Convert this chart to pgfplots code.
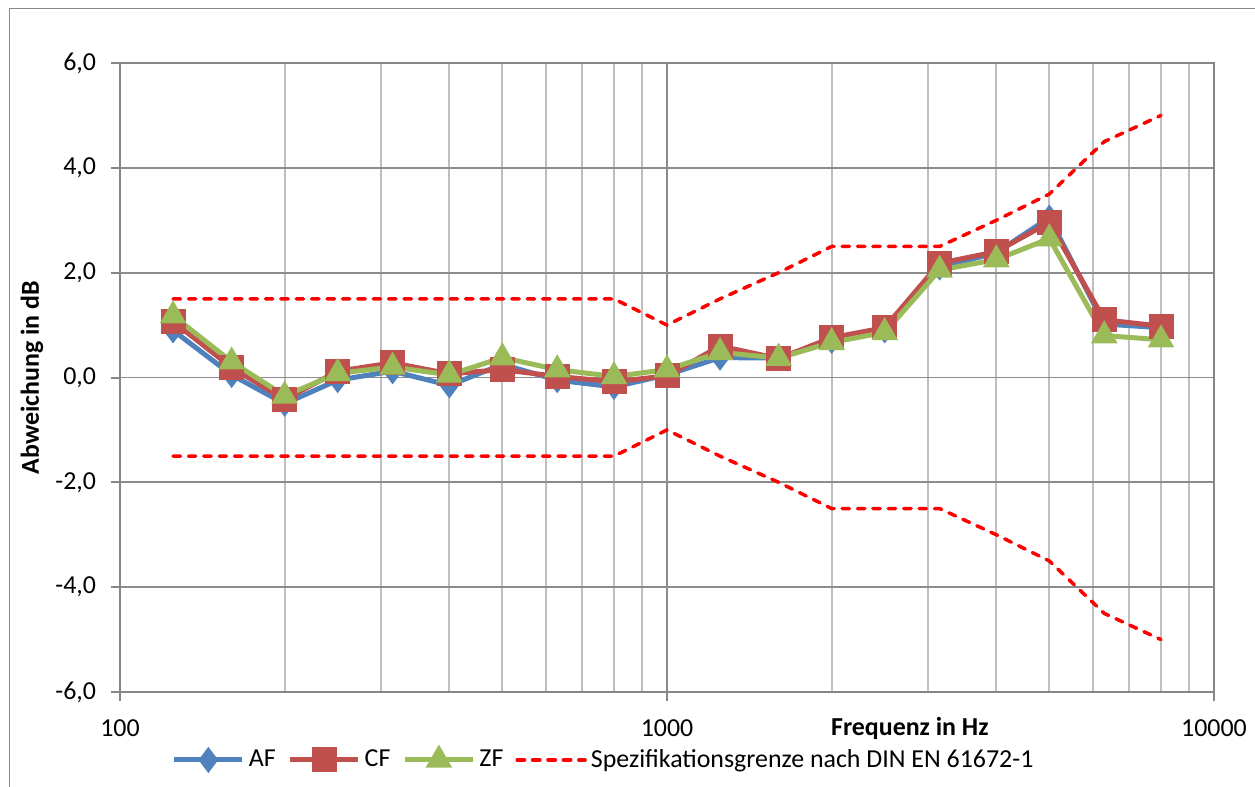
\documentclass[border=0pt]{standalone}
\usepackage{fontspec}
\setmainfont{Carlito}
\usepackage{pgfplots}
\pgfplotsset{compat=1.18}
\definecolor{afblue}{HTML}{4F81BD}
\definecolor{cfred}{HTML}{C0504D}
\definecolor{zfgreen}{HTML}{9BBB59}
\definecolor{axgray}{HTML}{868686}
\begin{document}
\begin{tikzpicture}[font=\fontsize{13}{15}\selectfont]
\path[use as bounding box] (-60bp,-47.5bp) rectangle (567.5bp,346bp);
\draw[color=axgray, line width=0.9bp] (-55.25bp,-100bp) |- (700bp,341.75bp);
\begin{axis}[
  at={(0,0)}, anchor=south west,
  scale only axis, width=547bp, height=314.5bp,
  xmode=log, xmin=100, xmax=10000, ymin=-6, ymax=6,
  xtick={100,1000,10000}, xticklabels={100,1000,10000},
  minor xtick={200,300,400,500,600,700,800,900,2000,3000,4000,5000,6000,7000,8000,9000},
  ytick={-6,-4,-2,0,2,4,6},
  yticklabel style={xshift=-4bp, /pgf/number format/fixed, /pgf/number format/fixed zerofill, /pgf/number format/precision=1, /pgf/number format/use comma},
  xticklabel style={yshift=-6bp},
  /pgf/number format/assume math mode=true,
  xmajorgrids, xminorgrids, ymajorgrids,
  major grid style={color=black!45, line width=0.9bp},
  minor grid style={color=black!25, line width=0.9bp},
  axis line style={color=axgray, line width=1bp},
  tick style={color=axgray, line width=1bp},
  tick align=outside, major tick length=4.5bp, minor tick length=0pt,
  xtick pos=bottom, ytick pos=left,
  xlabel={\bfseries Frequenz in Hz},
  xlabel style={at={(axis description cs:0.722,0)}, anchor=center, yshift=-18bp},
  ylabel={\bfseries Abweichung in dB},
  ylabel style={at={(axis description cs:-0.0804,0.5)}, anchor=center, rotate=0},
  legend style={at={(axis description cs:0.443,-0.108)}, anchor=center, draw=none, fill=none,
    legend columns=-1, /tikz/every even column/.append style={column sep=4bp},
    font=\fontsize{13}{15}\selectfont},
  legend image code/.code={\draw[mark repeat=2, mark phase=2, #1] plot coordinates {(0bp,0bp) (17bp,0bp) (34bp,0bp)};},
]
\addplot[color=afblue, line width=2.5bp, mark=diamond*, mark size=4.5bp, mark options={solid}] coordinates {
(125,0.9) (160,0.05) (200,-0.5) (250,-0.05) (315,0.12) (400,-0.15) (500,0.25) (630,-0.05) (800,-0.18) (1000,0.05) (1250,0.38) (1600,0.37) (2000,0.7) (2500,0.9) (3150,2.1) (4000,2.38) (5000,3.05) (6300,1.02) (8000,0.95)};
\addlegendentry{AF}
\addplot[color=cfred, line width=2.5bp, mark=square*, mark size=5bp, mark options={solid}] coordinates {
(125,1.07) (160,0.19) (200,-0.42) (250,0.12) (315,0.28) (400,0.07) (500,0.15) (630,0.02) (800,-0.08) (1000,0.03) (1250,0.6) (1600,0.36) (2000,0.76) (2500,0.95) (3150,2.18) (4000,2.4) (5000,2.96) (6300,1.1) (8000,0.98)};
\addlegendentry{CF}
\addplot[color=zfgreen, line width=2.5bp, mark=triangle*, mark size=5.2bp, mark options={solid}] coordinates {
(125,1.18) (160,0.3) (200,-0.35) (250,0.08) (315,0.2) (400,0.05) (500,0.38) (630,0.15) (800,0.02) (1000,0.15) (1250,0.48) (1600,0.37) (2000,0.67) (2500,0.86) (3150,2.05) (4000,2.25) (5000,2.65) (6300,0.8) (8000,0.72)};
\addlegendentry{ZF}
\addplot[color=red, line width=1.75bp, line cap=round, dash pattern=on 3.7bp off 4bp] coordinates {
(125,1.5) (160,1.5) (200,1.5) (250,1.5) (315,1.5) (400,1.5) (500,1.5) (630,1.5) (800,1.5) (1000,1.0) (1250,1.5) (1600,2.0) (2000,2.5) (2500,2.5) (3150,2.5) (4000,3.0) (5000,3.5) (6300,4.5) (8000,5.0)};
\addlegendentry{Spezifikationsgrenze nach DIN EN 61672-1}
\addplot[color=red, line width=1.75bp, line cap=round, dash pattern=on 3.7bp off 4bp, forget plot] coordinates {
(125,-1.5) (160,-1.5) (200,-1.5) (250,-1.5) (315,-1.5) (400,-1.5) (500,-1.5) (630,-1.5) (800,-1.5) (1000,-1.0) (1250,-1.5) (1600,-2.0) (2000,-2.5) (2500,-2.5) (3150,-2.5) (4000,-3.0) (5000,-3.5) (6300,-4.5) (8000,-5.0)};
\end{axis}
\end{tikzpicture}
\end{document}
